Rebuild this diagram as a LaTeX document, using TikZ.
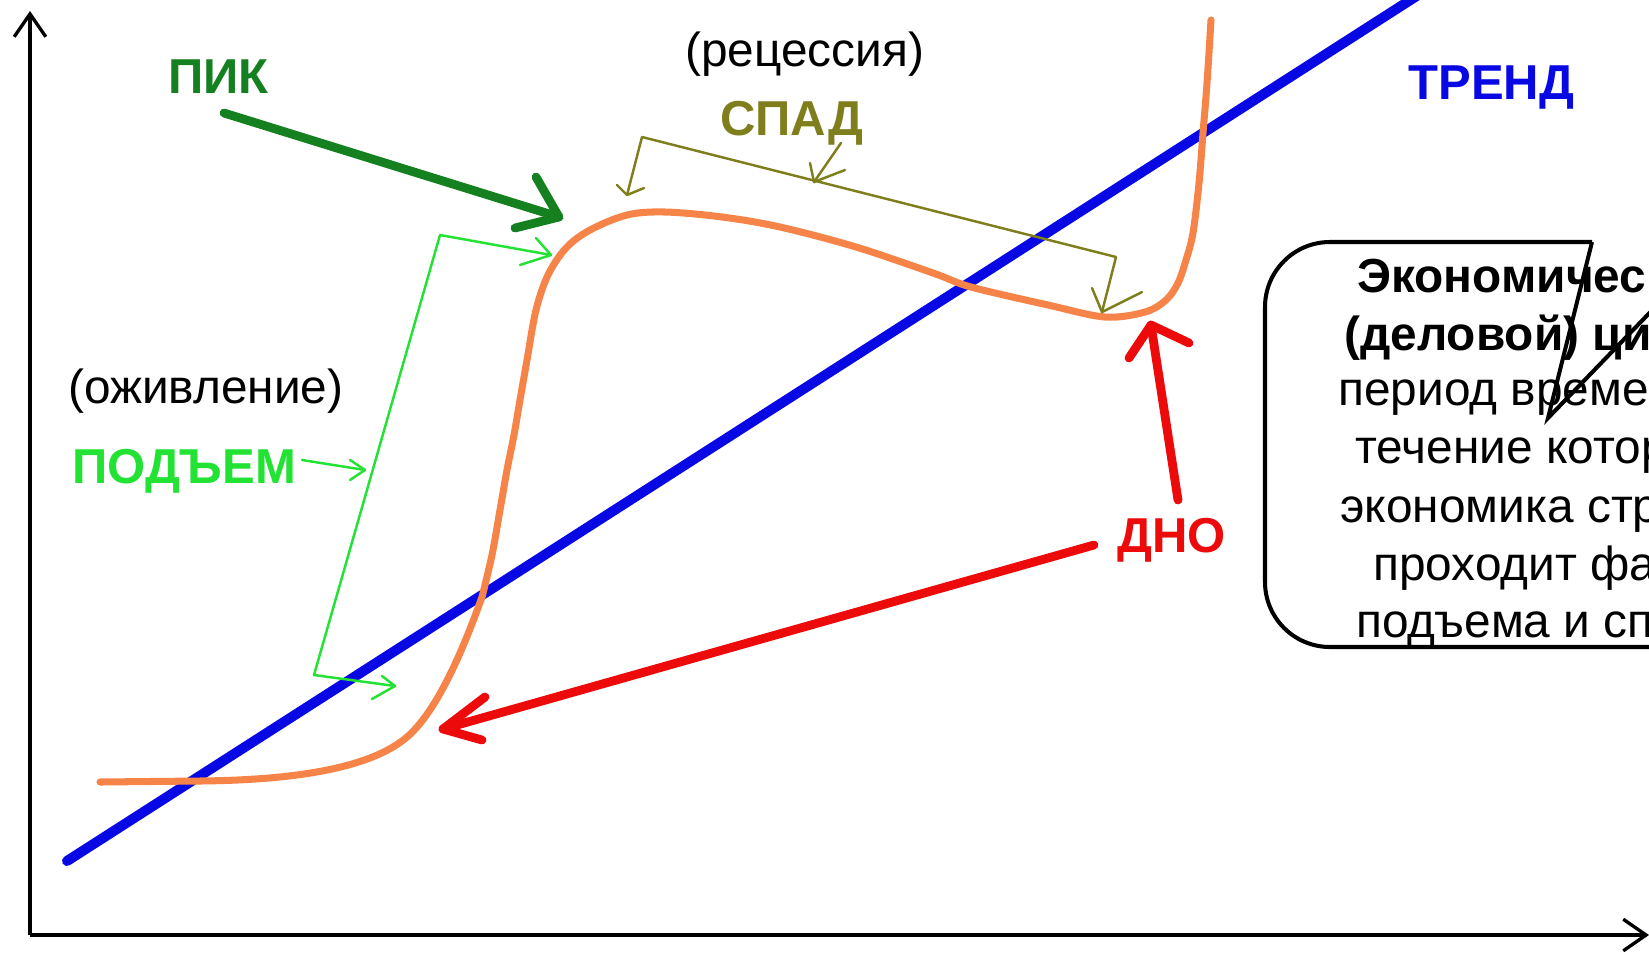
\documentclass[tikz,border=0pt]{standalone}
\usepackage{fontspec}
\setmainfont{Liberation Sans}
\usetikzlibrary{calc,arrows.meta}
\definecolor{trendblue}{RGB}{8,8,228}
\definecolor{curveorange}{RGB}{246,132,72}
\definecolor{peakgreen}{RGB}{20,128,32}
\definecolor{risegreen}{RGB}{34,226,52}
\definecolor{fallolive}{RGB}{126,126,28}
\definecolor{bottomred}{RGB}{236,10,10}
\tikzset{
  lbl/.style={font=\fontsize{27.9}{30}\selectfont\bfseries, inner sep=0pt, anchor=base west},
  txt/.style={font=\fontsize{27.2}{30}\selectfont, inner sep=0pt, anchor=base west},
  boxbold/.style={font=\fontsize{27.2}{30}\selectfont\bfseries, inner sep=0pt, anchor=base west},
  axisline/.style={line width=1.9pt, -{Straight Barb[length=13pt,width=18pt,line width=1.9pt]}},
  bigarrow/.style={line width=5pt, line cap=round, line join=round},
  thinarrow/.style={line width=1.4pt, line cap=round, line join=round},
  boxline/.style={line width=2.3pt},
}
\begin{document}
\begin{tikzpicture}[x=0.02cm,y=-0.02cm]
\useasboundingbox (0,0) rectangle (1649,954);
\begin{scope}
\clip (0,0) rectangle (1649,954);
% axes
\coordinate (origin) at (30,935);
\coordinate (ytop) at (30,11);
\coordinate (xend) at (1649,935);
\draw[axisline] (origin) -- (ytop);
\draw[axisline] (origin) -- (xend);
% trend line
\coordinate (trendS) at (67,861);
\coordinate (trendE) at (1426,-10);
\draw[trendblue, line width=5.7pt, line cap=round] (trendS) -- (trendE);
% business cycle curve
\coordinate (curveS) at (100,782);
\coordinate (curveE) at (1211,20);
\draw[curveorange, line width=4pt, line cap=round, line join=round]
 (curveS) -- (200,781) .. controls (300,780) and (372,767) .. (407,737)
 .. controls (442,707) and (470,630) .. (482,597)
 plot[smooth, tension=0.55] coordinates {
 (482,597) (492,555) (500,510) (507,470) (514,435) (520,400) (527,360) (536,310) (548,275) (566,248)
 (590,230) (627,215) (665,212) (722,217) (780,227) (856,247) (933,273) (971,287) (1048,305)
 (1105,317) (1145,312) (1166,300) (1178,283) (1186,260) (1193,233) (1199,183) (1203,133)
 (1207,83) (curveE)};
% labels
\node[lbl, text=peakgreen] (pik) at (168,93) {ПИК};
\node[lbl, text=risegreen] (podem) at (72,483) {ПОДЪЕМ};
\node[lbl, text=fallolive] (spad) at (720,135) {СПАД};
\node[lbl, text=bottomred] (dno) at (1117,552) {ДНО};
\node[lbl, text=trendblue] (trend) at (1408,99) {ТРЕНД};
\node[txt] (recess) at (685,66) {(рецессия)};
\node[txt] (ozhiv) at (68,403) {(оживление)};
% PIK arrow
\coordinate (pikS) at (224,113);
\coordinate (pikT) at (559,217);
\draw[bigarrow, peakgreen] (pikS) -- (pikT);
\draw[bigarrow, peakgreen] ($(pikT)+(-23,-40)$) -- (pikT) -- ($(pikT)+(-44,11)$);
% rise bracket
\coordinate (riseTop) at (551,255);
\coordinate (riseC1) at (440,235);
\coordinate (riseC2) at (314,675);
\coordinate (riseBot) at (395,686);
\draw[thinarrow, risegreen] (riseTop) -- (riseC1) -- (riseC2) -- (riseBot);
\draw[thinarrow, risegreen] ($(riseTop)+(-15,-17)$) -- (riseTop) -- ($(riseTop)+(-31,10)$);
\draw[thinarrow, risegreen] ($(riseBot)+(-13,-10)$) -- (riseBot) -- ($(riseBot)+(-23,13)$);
\coordinate (podS) at (302,460);
\coordinate (podT) at (365,470);
\draw[thinarrow, risegreen] (podS) -- (podT);
\draw[thinarrow, risegreen] ($(podT)+(-15,-10)$) -- (podT) -- ($(podT)+(-15,10)$);
% fall bracket
\coordinate (fallL) at (627,195);
\coordinate (fallC1) at (642,137);
\coordinate (fallC2) at (1116,257);
\coordinate (fallR) at (1102,312);
\draw[thinarrow, fallolive] (fallL) -- (fallC1) -- (fallC2) -- (fallR);
\draw[thinarrow, fallolive] ($(fallL)+(-10,-10)$) -- (fallL) -- ($(fallL)+(17,-7)$);
\draw[thinarrow, fallolive] ($(fallR)+(-10,-24)$) -- (fallR) -- ($(fallR)+(40,-20)$);
\coordinate (spadS) at (841,143);
\coordinate (spadT) at (814,182);
\draw[thinarrow, fallolive] (spadS) -- (spadT);
\draw[thinarrow, fallolive] ($(spadT)+(-4,-19)$) -- (spadT) -- ($(spadT)+(31,-12)$);
% bottom arrows
\coordinate (dnoUpS) at (1178,500);
\coordinate (dnoUpT) at (1151,325);
\draw[bigarrow, bottomred] (dnoUpS) -- (dnoUpT);
\draw[bigarrow, bottomred] ($(dnoUpT)+(-22,33)$) -- (dnoUpT) -- ($(dnoUpT)+(38,18)$);
\coordinate (dnoLS) at (1094,545);
\coordinate (dnoLT) at (443,729);
\draw[bigarrow, bottomred] (dnoLS) -- (dnoLT);
\draw[bigarrow, bottomred] ($(dnoLT)+(42,-32)$) -- (dnoLT) -- ($(dnoLT)+(39,11)$);
% callout box
\coordinate (boxPtrA) at (1592,242);
\coordinate (boxTip) at (1548,418);
\coordinate (boxPtrB) at (1718,242);
\draw[boxline, rounded corners=37pt] (boxPtrA) -- (1265,242) -- (1265,647) -- (1760,647);
\draw[boxline, line join=miter] (boxPtrA) -- (boxTip) -- (boxPtrB);
\node[boxbold] (def1) at (1357,292) {Экономичес};
\node[boxbold] (def2) at (1344,350) {(деловой) ци};
\node[txt] (def3) at (1338,405) {период време};
\node[txt] (def4) at (1355,463) {течение котор};
\node[txt] (def5) at (1340,522) {экономика стр};
\node[txt] (def6) at (1373,580) {проходит фа};
\node[txt] (def7) at (1356,637) {подъема и сп};
\end{scope}
\end{tikzpicture}
\end{document}
